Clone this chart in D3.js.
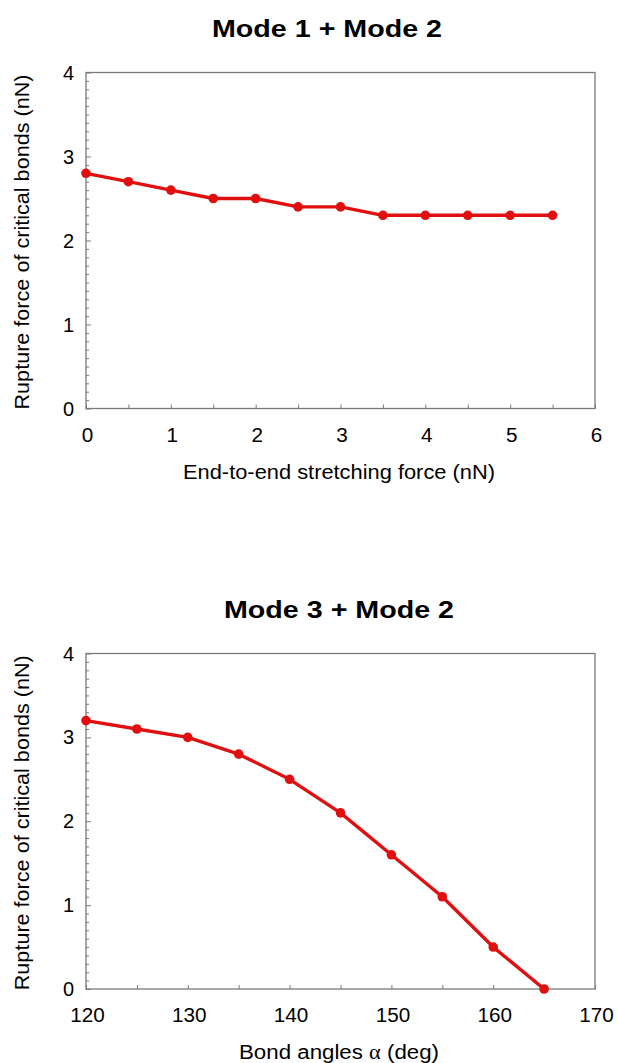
<!DOCTYPE html>
<html>
<head>
  <meta charset="utf-8">
  <title>Rupture force of critical bonds</title>
  <style>
    body { margin: 0; background: #fff; }
    svg { display: block; }
    text { font-family: "Liberation Sans", Arial, Helvetica, sans-serif; fill: #000; }
    .frame { fill: none; stroke: #7a7a7a; stroke-width: 1.3px; }
    .tick line { stroke: #7a7a7a; stroke-width: 1px; }
    .series { fill: none; stroke: #e01010; stroke-width: 3.4px; stroke-linejoin: round; }
    .dot { fill: #e01010; }
  </style>
</head>
<body>
<svg width="617" height="1063"></svg>
<script src="https://d3js.org/d3.v7.min.js"></script>
<script>

// chart 1: Mode 1 + Mode 2
var force = [0, 0.5, 1, 1.5, 2, 2.5, 3, 3.5, 4, 4.5, 5, 5.5];
var rupture1 = [2.8, 2.7, 2.6, 2.5, 2.5, 2.4, 2.4, 2.3, 2.3, 2.3, 2.3, 2.3];
var forceTicks = [0, 1, 2, 3, 4, 5, 6];
var forceMinor = [0.5, 1.5, 2.5, 3.5, 4.5, 5.5];

// chart 2: Mode 3 + Mode 2
var angle = [120, 125, 130, 135, 140, 145, 150, 155, 160, 165];
var rupture2 = [3.2, 3.1, 3.0, 2.8, 2.5, 2.1, 1.6, 1.1, 0.5, 0.0];
var angleTicks = [120, 130, 140, 150, 160, 170];
var angleMinor = [125, 135, 145, 155, 165];

var ruptureTicks = [0, 1, 2, 3, 4];

var svg = d3.select("svg");
var left = 86, right = 595;

function drawChart(opt) {
  var x = d3.scaleLinear().domain(opt.xDomain).range([left, right]);
  var y = d3.scaleLinear().domain([0, 4]).range([opt.bottom, opt.top]);
  var g = svg.append("g");

  // title
  g.append("text")
      .attr("x", opt.titleX)
      .attr("y", opt.top - 35.5)
      .attr("text-anchor", "middle")
      .attr("font-size", 23)
      .attr("font-weight", "bold")
      .attr("textLength", 230)
      .attr("lengthAdjust", "spacingAndGlyphs")
      .text(opt.title);

  // y axis (ticks inward)
  var minorY = d3.range(0, 40).map(function(d) { return d / 10; })
      .filter(function(d) { return ruptureTicks.indexOf(d) < 0; });
  g.append("g")
      .attr("transform", "translate(" + left + ",0)")
      .call(d3.axisRight(y).tickValues(minorY).tickSize(3).tickFormat(""))
      .call(function(a) { a.select(".domain").remove(); });
  g.append("g")
      .attr("transform", "translate(" + left + ",0)")
      .call(d3.axisRight(y).tickValues(ruptureTicks).tickSize(5).tickFormat(""))
      .call(function(a) { a.select(".domain").remove(); });
  g.selectAll(".ylab")
      .data(ruptureTicks)
      .enter().append("text")
      .attr("x", 74)
      .attr("y", function(d) { return y(d) + 7; })
      .attr("text-anchor", "end")
      .attr("font-size", 20)
      .text(function(d) { return d; });

  // x axis (ticks inward)
  g.append("g")
      .attr("transform", "translate(0," + opt.bottom + ")")
      .call(d3.axisTop(x).tickValues(opt.xTicks.concat(opt.xMinor)).tickSize(4).tickFormat(""))
      .call(function(a) { a.select(".domain").remove(); });
  g.selectAll(".xlab")
      .data(opt.xTicks)
      .enter().append("text")
      .attr("x", function(d) { return x(d) + 1.5; })
      .attr("y", opt.bottom + 33)
      .attr("text-anchor", "middle")
      .attr("font-size", 20)
      .attr("textLength", function(d) { return String(d).length * 11.5; })
      .attr("lengthAdjust", "spacingAndGlyphs")
      .text(function(d) { return d; });

  // frame
  g.append("rect")
      .attr("class", "frame")
      .attr("x", left)
      .attr("y", opt.top)
      .attr("width", right - left)
      .attr("height", opt.bottom - opt.top);

  // axis titles
  var xt = g.append("text")
      .attr("x", 339)
      .attr("y", opt.bottom + 70)
      .attr("text-anchor", "middle")
      .attr("font-size", 20)
      .attr("textLength", opt.xTitleLen)
      .attr("lengthAdjust", "spacingAndGlyphs");
  opt.xTitle(xt);

  g.append("text")
      .attr("transform", "translate(29," + ((opt.top + opt.bottom) / 2 + 1.5) + ") rotate(-90)")
      .attr("text-anchor", "middle")
      .attr("font-size", 20)
      .attr("textLength", 335)
      .attr("lengthAdjust", "spacingAndGlyphs")
      .text("Rupture force of critical bonds (nN)");

  // series
  var line = d3.line()
      .x(function(d) { return x(d[0]); })
      .y(function(d) { return y(d[1]); });
  var pts = d3.zip(opt.xs, opt.ys);
  g.append("path")
      .datum(pts)
      .attr("class", "series")
      .attr("d", line);
  g.selectAll(".dot")
      .data(pts)
      .enter().append("circle")
      .attr("class", "dot")
      .attr("cx", function(d) { return x(d[0]); })
      .attr("cy", function(d) { return y(d[1]); })
      .attr("r", 4.8);
}

drawChart({
  title: "Mode 1 + Mode 2",
  titleX: 327,
  top: 72.5,
  bottom: 408.5,
  xDomain: [0, 6],
  xTicks: forceTicks,
  xMinor: forceMinor,
  xs: force,
  ys: rupture1,
  xTitleLen: 312,
  xTitle: function(t) { t.text("End-to-end stretching force (nN)"); }
});

drawChart({
  title: "Mode 3 + Mode 2",
  titleX: 339,
  top: 653.5,
  bottom: 989,
  xDomain: [120, 170],
  xTicks: angleTicks,
  xMinor: angleMinor,
  xs: angle,
  ys: rupture2,
  xTitleLen: 200,
  xTitle: function(t) {
    t.append("tspan").text("Bond angles ");
    t.append("tspan").attr("font-family", "'Liberation Serif', 'Times New Roman', serif").text("\u03b1");
    t.append("tspan").text(" (deg)");
  }
});

</script>
</body>
</html>
